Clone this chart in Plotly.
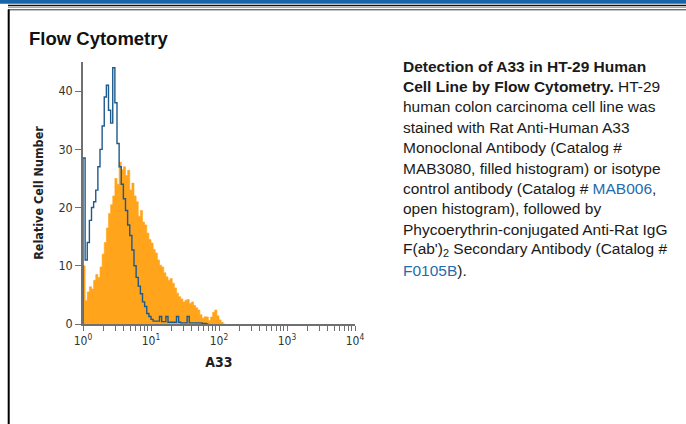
import numpy as np
import plotly.graph_objects as go

W, H = 686, 424

# ---------------- data ----------------
# histogram channels: 32 bins per decade, starting at 10^0
bins_per_decade = 32
a33_counts = [10, 4, 5.5, 6.4, 6.0, 7.5, 8.5, 8, 9.8, 12, 14, 16.5, 19, 20.5, 22, 25,
              24, 27.8, 26.5, 27, 25.5, 26.4, 23, 24.2, 22, 21, 18.5, 19.5, 17.5, 17,
              15.6, 14.5, 13.9, 12.8, 12.2, 11, 10.1, 9.8, 8.8, 8.1, 7.5, 7.8, 7, 6.2,
              5.3, 4.7, 4.3, 3.8, 4.1, 4.2, 3.5, 3.8, 3.2, 2.8, 2.4, 1.6, 1.0, 1.25,
              1.2, 0.6, 1.2, 2.0, 2.4, 1.4, 0.7, 0.3, 0]
isotype_counts = [28.5, 11, 14, 17.8, 20, 21, 23, 27, 30, 34, 39, 41, 36.7, 34.5, 44,
                  38, 31, 27, 24, 21.5, 19.5, 17, 15.2, 12.7, 10, 8, 6.5, 5.2, 3.8, 3,
                  1.8, 1.3, 0.8, 0.5, 0.5, 0.5, 1.3, 0.4, 0.4, 1.3, 0.3, 0.3, 0.3, 0.3,
                  1.3, 0.3, 0.2, 0.2, 0.2, 1.3, 0.2, 0.2, 0.2, 0.2, 0.2, 0.2, 0.1, 0.1, 0]

x_major = [1, 10, 100, 1000, 10000]
x_major_text = ["10<sup>0</sup>", "10<sup>1</sup>", "10<sup>2</sup>", "10<sup>3</sup>", "10<sup>4</sup>"]
y_ticks = [0, 10, 20, 30, 40]

title_text = "Flow Cytometry"
x_title = "A33"
y_title = "Relative Cell Number"
LINK = "#1f6cb0"
caption_lines = [
    "<b>Detection of A33 in HT-29 Human</b>",
    "<b>Cell Line by Flow Cytometry.</b> HT-29",
    "human colon carcinoma cell line was",
    "stained with Rat Anti-Human A33",
    "Monoclonal Antibody (Catalog #",
    "MAB3080, filled histogram) or isotype",
    f"control antibody (Catalog # <span style='color:{LINK}'>MAB006</span>,",
    "open histogram), followed by",
    "Phycoerythrin-conjugated Anti-Rat IgG",
    "F(ab')<sub>2</sub> Secondary Antibody (Catalog #",
    f"<span style='color:{LINK}'>F0105B</span>).",
]

# ---------------- helpers ----------------
def px(x):
    return x / W

def py(y):
    return 1 - y / H

def step_xy(counts):
    n = len(counts)
    edges = 10 ** (np.arange(n + 1) / bins_per_decade)
    xs = [edges[0]] + list(edges)
    ys = [0] + list(counts) + [counts[-1]]
    return xs, ys

COND = "Liberation Sans Narrow, DejaVu Sans Condensed, Roboto Condensed, Liberation Sans, Arial, sans-serif"
ARIAL = "Liberation Sans, Arial, Helvetica, sans-serif"
AXIS_COLOR = "#707070"

fig = go.Figure()
xa, ya = step_xy(a33_counts)
fig.add_trace(go.Scatter(x=xa, y=ya, mode="lines", line=dict(shape="hv", width=0.6, color="#FFA41B"),
                         fill="tozeroy", fillcolor="#FFA41B", hoverinfo="skip", showlegend=False))
xi, yi = step_xy(isotype_counts)
fig.add_trace(go.Scatter(x=xi, y=yi, mode="lines", line=dict(shape="hv", width=1.4, color="#1d5a8c"),
                         hoverinfo="skip", showlegend=False))

# minor + major tick positions on log axis
x_tickvals, x_ticktext = [], []
for d in range(4):
    for m in range(1, 10):
        x_tickvals.append(m * 10 ** d)
        x_ticktext.append(x_major_text[d] if m == 1 else "")
x_tickvals.append(x_major[-1])
x_ticktext.append(x_major_text[-1])

fig.update_layout(
    width=W, height=H, margin=dict(l=0, r=0, t=0, b=0, autoexpand=False),
    paper_bgcolor="white", plot_bgcolor="white",
    xaxis=dict(type="log", range=[0, 4], domain=[px(83), px(355)], automargin=False,
               showgrid=False, zeroline=False, showline=True, linecolor=AXIS_COLOR, linewidth=1.5,
               tickvals=x_tickvals, ticktext=x_ticktext, ticks="outside", ticklen=5,
               tickcolor=AXIS_COLOR, tickwidth=1,
               tickfont=dict(family=COND, size=12, color="#333333"),
               title=dict(text=f"<b>{x_title}</b>", font=dict(family=COND, size=14, color="#222222"),
                          standoff=10)),
    yaxis=dict(range=[0, 45], domain=[py(324), py(62)], automargin=False,
               showgrid=False, zeroline=False, showline=True, linecolor=AXIS_COLOR, linewidth=1.5,
               tickvals=y_ticks, ticks="outside", ticklen=6, tickcolor=AXIS_COLOR, tickwidth=1,
               tickfont=dict(family=COND, size=12.5, color="#333333"),
               title=dict(text=f"<b>{y_title}</b>", font=dict(family=COND, size=12.5, color="#222222"),
                          standoff=12)),
)

# frame decorations
shapes = [
    dict(type="rect", xref="paper", yref="paper", x0=0, x1=1, y0=py(3.8), y1=1,
         fillcolor="#1864a8", line=dict(width=0)),
    dict(type="line", xref="paper", yref="paper", x0=px(8), x1=1, y0=py(5.4), y1=py(5.4),
         line=dict(color="#111111", width=1.5)),
    dict(type="line", xref="paper", yref="paper", x0=px(8), x1=1, y0=py(7.5), y1=py(7.5),
         line=dict(color="#aaaaaa", width=1)),
    dict(type="line", xref="paper", yref="paper", x0=px(8), x1=1, y0=py(9.8), y1=py(9.8),
         line=dict(color="#333333", width=1)),
    dict(type="line", xref="paper", yref="paper", x0=px(8.7), x1=px(8.7), y0=py(9.5), y1=0,
         line=dict(color="#000000", width=2)),
]
fig.update_layout(shapes=shapes)

fig.add_annotation(xref="paper", yref="paper", x=px(27), y=py(38.5), xanchor="left", yanchor="middle",
                   text=f"<b>{title_text}</b>", showarrow=False,
                   font=dict(family=ARIAL, size=18.5, color="#111111"))

for i, line in enumerate(caption_lines):
    fig.add_annotation(xref="paper", yref="paper", x=px(401), y=py(66 + 20.4 * i),
                       xanchor="left", yanchor="middle", text=line, showarrow=False,
                       font=dict(family=ARIAL, size=15.5, color="#1a1a1a"))

fig.write_html("out.html", config={"displayModeBar": False},
               post_script="document.body.style.margin='0';document.body.style.overflow='hidden';")
